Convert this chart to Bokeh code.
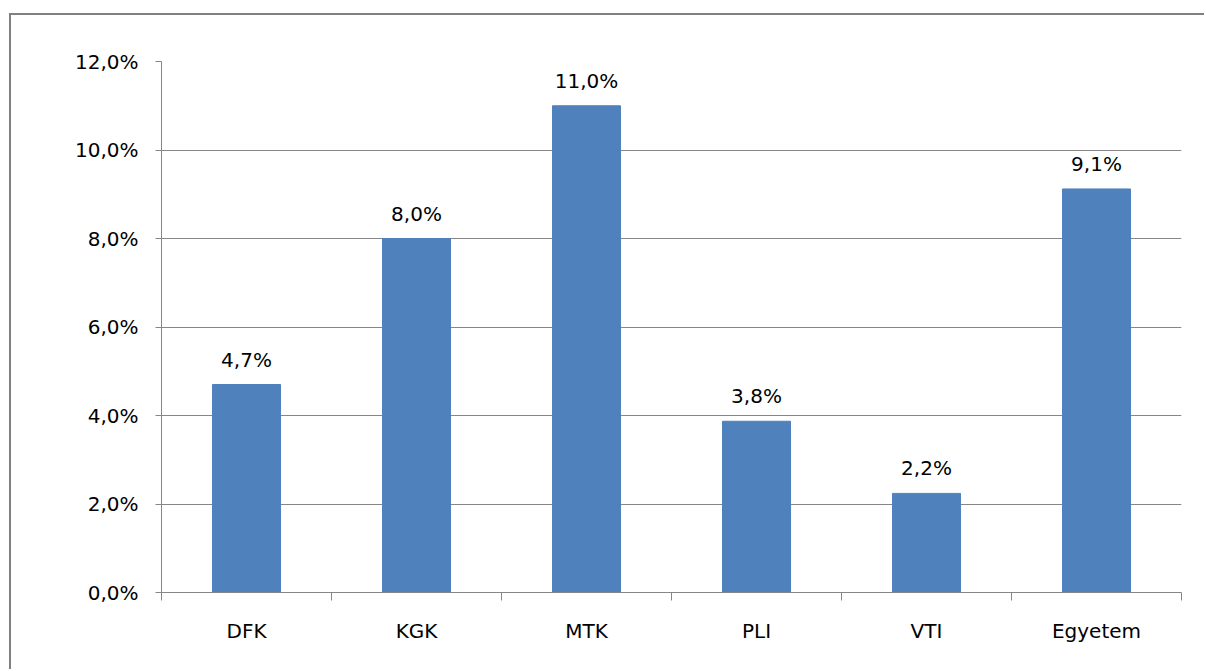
from bokeh.plotting import figure
from bokeh.models import Range1d, FixedTicker, ColumnDataSource
from bokeh.core.properties import value
from bokeh.embed import file_html
from bokeh.resources import INLINE

categories = ["DFK", "KGK", "MTK", "PLI", "VTI", "Egyetem"]
values = [0.047, 0.080, 0.110, 0.0387, 0.0224, 0.0912]
value_labels = ["4,7%", "8,0%", "11,0%", "3,8%", "2,2%", "9,1%"]
y_ticks = [0.0, 0.02, 0.04, 0.06, 0.08, 0.10, 0.12]
y_tick_labels = ["0,0%", "2,0%", "4,0%", "6,0%", "8,0%", "10,0%", "12,0%"]

FONT = "DejaVu Sans"
FS = "20px"
GRAY = "#868686"
BAR = "#4F81BD"

xs = [i + 0.5 for i in range(len(categories))]
src = ColumnDataSource(dict(x=xs, top=values, lab=value_labels))

p = figure(width=1195, height=656, output_backend="svg", toolbar_location=None,
           x_range=Range1d(0, len(categories)), y_range=Range1d(0, 0.12),
           min_border_left=150, min_border_top=46, min_border_bottom=79, min_border_right=25)
p.margin = (13, 0, 0, 9)
p.styles = {"border-left": "2px solid #808080", "border-top": "2px solid #808080"}
p.outline_line_color = None
p.background_fill_color = "white"
p.border_fill_color = "white"

p.vbar(x="x", top="top", width=0.4, source=src, fill_color=BAR, line_color=BAR)
p.text(x="x", y="top", text="lab", source=src, text_align="center",
       text_baseline="alphabetic", y_offset=-25, text_font=value(FONT),
       text_font_size=FS, text_color="black")

# y axis
p.yaxis.ticker = FixedTicker(ticks=y_ticks, minor_ticks=[])
p.yaxis.major_label_overrides = {t: l for t, l in zip(y_ticks, y_tick_labels)}
p.yaxis.axis_line_color = GRAY
p.yaxis.major_tick_line_color = GRAY
p.yaxis.major_tick_out = 6
p.yaxis.major_tick_in = 0
p.yaxis.minor_tick_line_color = None
p.yaxis.major_label_standoff = 17
p.yaxis.major_label_text_font = FONT
p.yaxis.major_label_text_font_size = FS
p.yaxis.major_label_text_color = "black"

# x axis: labels at centers, boundary ticks as minor ticks
p.xaxis.ticker = FixedTicker(ticks=xs, minor_ticks=list(range(len(categories) + 1)))
p.xaxis.major_label_overrides = {x: c for x, c in zip(xs, categories)}
p.xaxis.axis_line_color = GRAY
p.xaxis.major_tick_line_color = None
p.xaxis.major_tick_out = 0
p.xaxis.major_tick_in = 0
p.xaxis.minor_tick_line_color = GRAY
p.xaxis.minor_tick_out = 8
p.xaxis.minor_tick_in = 0
p.xaxis.major_label_standoff = 18
p.xaxis.major_label_text_font = FONT
p.xaxis.major_label_text_font_size = FS
p.xaxis.major_label_text_color = "black"

p.xgrid.grid_line_color = None
p.ygrid.ticker = FixedTicker(ticks=y_ticks)
p.ygrid.grid_line_color = GRAY
p.ygrid.grid_line_width = 1

open("out.html", "w").write(file_html(p, INLINE))
